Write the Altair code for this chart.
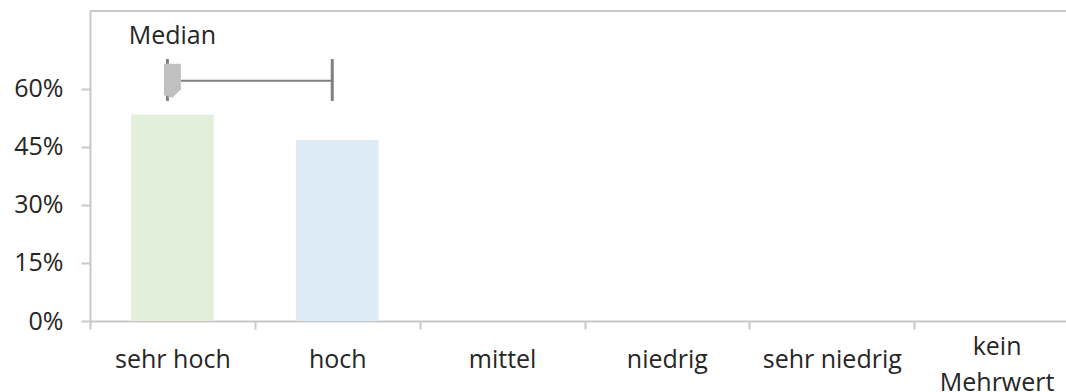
import altair as alt
import pandas as pd

# Share of answers per rating
categories = ["sehr hoch", "hoch", "mittel", "niedrig", "sehr niedrig", "kein Mehrwert"]
shares = [0.533, 0.467, 0.0, 0.0, 0.0, 0.0]
bar_colors = ["#E2EFDA", "#DDEBF7", "#FFF2CC", "#FCE4D6", "#F8CBAD", "#EDEDED"]

# Median marker with whisker, in category units (1 = "sehr hoch")
median_pos = [1.0]
upper_pos = [2.0]
marker_level = [0.62]
cap_low = [0.568]
cap_high = [0.676]
label_level = [0.714]
median_label = ["Median"]

y_ticks = [0.0, 0.15, 0.30, 0.45, 0.60]
y_max = 0.8

FONT = "Open Sans"
TEXT = "#262626"
AXIS_GRAY = "#C8C8C8"
LINE_GRAY = "#7F7F7F"
MARKER_GRAY = "#C0C0C0"
PLOT_W, PLOT_H = 976, 310
RANGE_W = 989  # the last category band runs on past the right edge

bars_df = pd.DataFrame({"Kategorie": categories, "Anteil": shares, "Farbe": bar_colors})
median_df = pd.DataFrame({
    "pos": median_pos, "upper": upper_pos, "level": marker_level,
    "lo": cap_low, "hi": cap_high, "lab_y": label_level, "text": median_label,
})
top_df = pd.DataFrame({"top": [y_max]})

y_scale = alt.Scale(domain=[0, y_max], nice=False, zero=True)
y_axis = alt.Axis(
    title=None, values=y_ticks, format=".0%",
    domainColor=AXIS_GRAY, domainWidth=2,
    tickColor=AXIS_GRAY, tickWidth=2, tickSize=9,
    labelFont=FONT, labelFontSize=25, labelColor=TEXT, labelPadding=18,
    grid=False,
)
# two-line label sits higher than the single-line ones
x_axis = alt.Axis(
    title=None, labelAngle=0, tickBand="extent",
    domainColor=AXIS_GRAY, domainWidth=2,
    tickColor=AXIS_GRAY, tickWidth=2, tickSize=8,
    labelFont=FONT, labelFontSize=25, labelColor=TEXT,
    labelPadding=30, labelLineHeight=36,
    labelBaseline=alt.condition("datum.value == 'kein Mehrwert'",
                                alt.value("bottom"), alt.value("middle")),
    labelExpr="datum.label == 'kein Mehrwert' ? ['kein', 'Mehrwert'] : datum.label",
    grid=False,
)
pos_scale = alt.Scale(domain=[0.5, 6.5], range=[0, RANGE_W], nice=False, zero=False)

bars = alt.Chart(bars_df).mark_bar(width=alt.RelativeBandSize(0.5)).encode(
    x=alt.X("Kategorie:N", sort=categories,
            scale=alt.Scale(range=[0, RANGE_W], paddingInner=0, paddingOuter=0),
            axis=x_axis),
    y=alt.Y("Anteil:Q", scale=y_scale, axis=y_axis),
    color=alt.Color("Farbe:N", scale=None, legend=None),
)

base = alt.Chart(median_df)

whisker = base.mark_rule(color=LINE_GRAY, strokeWidth=2, xOffset=-5, x2Offset=-5).encode(
    x=alt.X("pos:Q", scale=pos_scale, axis=None),
    x2="upper:Q",
    y=alt.Y("level:Q", scale=y_scale, axis=y_axis),
)
median_cap = base.mark_rule(color=LINE_GRAY, strokeWidth=3, xOffset=-5).encode(
    x=alt.X("pos:Q", scale=pos_scale, axis=None),
    y=alt.Y("lo:Q", scale=y_scale, axis=y_axis),
    y2="hi:Q",
)
upper_cap = base.mark_rule(color=LINE_GRAY, strokeWidth=3, xOffset=-5).encode(
    x=alt.X("upper:Q", scale=pos_scale, axis=None),
    y=alt.Y("lo:Q", scale=y_scale, axis=y_axis),
    y2="hi:Q",
)
marker = base.mark_point(
    shape="M-0.5,-1L0.5,-1L0.5,0.5L0,1L-0.5,0.85Z",
    filled=True, fill=MARKER_GRAY, opacity=1, size=1156, strokeWidth=0,
).encode(
    x=alt.X("pos:Q", scale=pos_scale, axis=None),
    y=alt.Y("level:Q", scale=y_scale, axis=y_axis),
)
label = base.mark_text(
    font=FONT, fontSize=25, color=TEXT, align="center", baseline="alphabetic",
).encode(
    x=alt.X("pos:Q", scale=pos_scale, axis=None),
    y=alt.Y("lab_y:Q", scale=y_scale, axis=y_axis),
    text="text:N",
)

overlay = alt.layer(whisker, median_cap, upper_cap, marker, label)

top_border = alt.Chart(top_df).mark_rule(color=AXIS_GRAY, strokeWidth=2).encode(
    y=alt.Y("top:Q", scale=y_scale, axis=y_axis),
)

chart = (
    alt.layer(bars, top_border, overlay)
    .resolve_scale(x="independent")
    .properties(
        width=PLOT_W, height=PLOT_H,
        padding={"left": 90, "top": 11, "right": 0, "bottom": 71},
        autosize=alt.AutoSizeParams(type="none"),
        background="white",
    )
    .configure_view(stroke=None)
)

chart.save("out.html", embed_options={"renderer": "svg", "actions": False})
